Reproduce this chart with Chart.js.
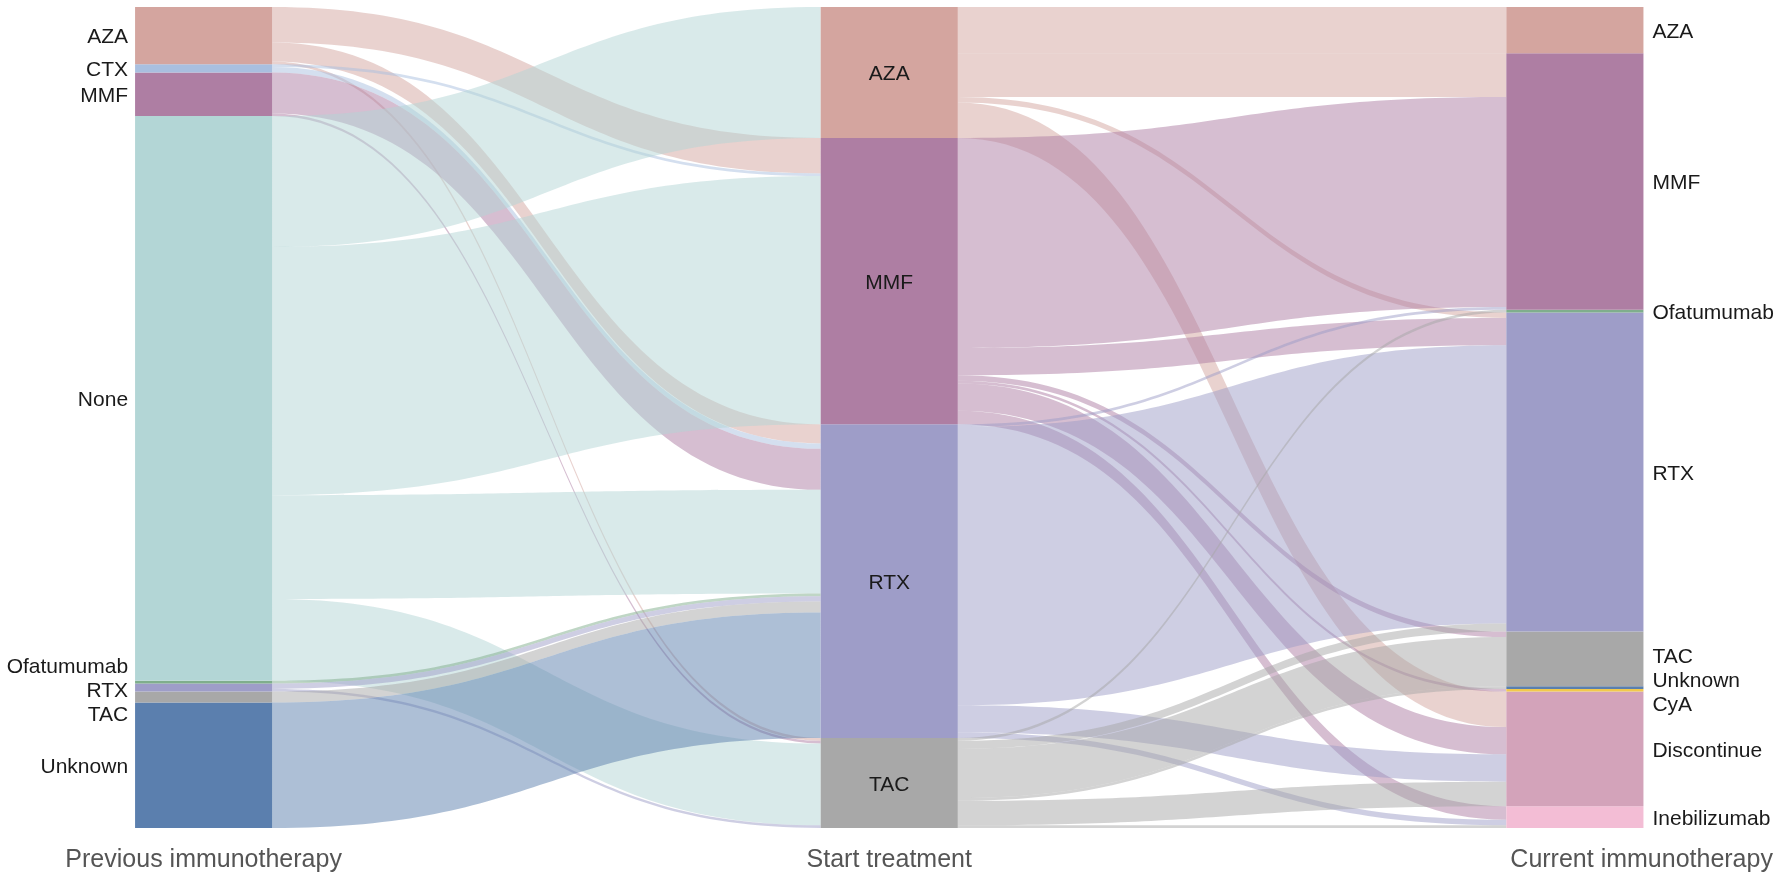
<!DOCTYPE html>
<html>
<head>
<meta charset="utf-8">
<script src="https://cdn.jsdelivr.net/npm/chart.js@4.4.1/dist/chart.umd.min.js"></script>
<style>
  html, body { margin: 0; padding: 0; background: #ffffff; }
  #wrap { width: 1784px; height: 882px; position: relative; }
</style>
</head>
<body>
<div id="wrap"><canvas id="myChart"></canvas></div>
<script>
// columns of the alluvial plot
const columnTitles = ['Previous immunotherapy', 'Start treatment', 'Current immunotherapy'];
const prevNodes = ['AZA', 'CTX', 'MMF', 'None', 'Ofatumumab', 'RTX', 'TAC', 'Unknown'];
const startNodes = ['AZA', 'MMF', 'RTX', 'TAC'];
const currentNodes = ['AZA', 'MMF', 'Ofatumumab', 'RTX', 'TAC', 'Unknown', 'CyA', 'Discontinue', 'Inebilizumab'];

// patients moving from previous immunotherapy to start treatment
const prevToStart = [
    ['AZA', 'MMF', 13], ['AZA', 'RTX', 7], ['AZA', 'TAC', 1],
    ['CTX', 'MMF', 1], ['CTX', 'RTX', 2],
    ['MMF', 'RTX', 15], ['MMF', 'TAC', 1],
    ['None', 'AZA', 48], ['None', 'MMF', 91], ['None', 'RTX', 38], ['None', 'TAC', 30],
    ['Ofatumumab', 'RTX', 1],
    ['RTX', 'RTX', 2], ['RTX', 'TAC', 1],
    ['TAC', 'RTX', 4],
    ['Unknown', 'RTX', 46]
];

// patients moving from start treatment to current immunotherapy
const startToCurrent = [
    ['AZA', 'AZA', 17], ['AZA', 'MMF', 16], ['AZA', 'RTX', 2], ['AZA', 'Discontinue', 13],
    ['MMF', 'MMF', 77], ['MMF', 'RTX', 10], ['MMF', 'TAC', 2], ['MMF', 'CyA', 1], ['MMF', 'Discontinue', 10], ['MMF', 'Inebilizumab', 5],
    ['RTX', 'MMF', 1], ['RTX', 'RTX', 102], ['RTX', 'Discontinue', 10], ['RTX', 'Inebilizumab', 2],
    ['TAC', 'Ofatumumab', 1], ['TAC', 'RTX', 3], ['TAC', 'TAC', 18], ['TAC', 'Unknown', 1], ['TAC', 'Discontinue', 9], ['TAC', 'Inebilizumab', 1]
];

const nodeColors = {
    AZA: '#d4a59f',
    CTX: '#a9bfdf',
    MMF: '#ae7ea3',
    None: '#b3d6d6',
    Ofatumumab: '#7fae8c',
    RTX: '#9e9dc8',
    TAC: '#a8a8a8',
    Unknown: '#5b7fae',
    CyA: '#f2c94c',
    Discontinue: '#d3a3ba',
    Inebilizumab: '#f3bdd5'
};

//------------------------------------------------------------------------------------------------
const columns = [prevNodes, startNodes, currentNodes];
const linkSets = [prevToStart, startToCurrent];

function hexToRgba(hex, alpha) {
    const n = parseInt(hex.slice(1), 16);
    return 'rgba(' + (n >> 16) + ',' + ((n >> 8) & 255) + ',' + (n & 255) + ',' + alpha + ')';
}

// node sizes = sum of flows touching them
function nodeTotals(col) {
    const totals = {};
    columns[col].forEach(n => totals[n] = 0);
    if (col < linkSets.length) linkSets[col].forEach(l => totals[l[0]] += l[2]);
    else linkSets[col - 1].forEach(l => totals[l[1]] += l[2]);
    return totals;
}

// stacked node positions (in patient units) for every column
const nodeSpans = columns.map((names, col) => {
    const totals = nodeTotals(col);
    let acc = 0;
    const spans = {};
    names.forEach(n => {
        spans[n] = [acc, acc + totals[n]];
        acc += totals[n];
    });
    return spans;
});
const grandTotal = prevToStart.reduce((s, l) => s + l[2], 0);

// flow bands: sorted by the node at the other end, like a standard alluvial layout
function buildBands(col) {
    const links = linkSets[col];
    const from = columns[col], to = columns[col + 1];
    const outOff = {}, inOff = {};
    from.forEach(n => outOff[n] = nodeSpans[col][n][0]);
    to.forEach(n => inOff[n] = nodeSpans[col + 1][n][0]);
    const bands = links.map(l => ({ src: l[0], tgt: l[1], v: l[2] }));
    const outOrder = bands.slice().sort((a, b) => from.indexOf(a.src) - from.indexOf(b.src) || to.indexOf(a.tgt) - to.indexOf(b.tgt));
    outOrder.forEach(b => { b.s0 = outOff[b.src]; outOff[b.src] += b.v; b.s1 = outOff[b.src]; });
    const inOrder = bands.slice().sort((a, b) => to.indexOf(a.tgt) - to.indexOf(b.tgt) || from.indexOf(a.src) - from.indexOf(b.src));
    inOrder.forEach(b => { b.t0 = inOff[b.tgt]; inOff[b.tgt] += b.v; b.t1 = inOff[b.tgt]; });
    return bands;
}
const bandSets = [buildBands(0), buildBands(1)];

// one floating bar dataset per node
const datasets = [];
const datasetIndex = {};
columns.forEach((names, col) => {
    names.forEach(n => {
        datasetIndex[col + ':' + n] = datasets.length;
        datasets.push({
            label: n,
            data: [{ x: col, y: nodeSpans[col][n] }],
            backgroundColor: nodeColors[n],
            borderWidth: 0,
            grouped: false,
            categoryPercentage: 1,
            barPercentage: 0.2
        });
    });
});

function nodeEdges(chart, col, name) {
    const el = chart.getDatasetMeta(datasetIndex[col + ':' + name]).data[0];
    return { left: el.x - el.width / 2, right: el.x + el.width / 2, x: el.x };
}

const flowPlugin = {
    id: 'flows',
    beforeDatasetsDraw(chart) {
        const ctx = chart.ctx;
        const ys = chart.scales.y;
        ctx.save();
        bandSets.forEach((bands, col) => {
            bands.forEach(b => {
                const xa = nodeEdges(chart, col, b.src).right;
                const xb = nodeEdges(chart, col + 1, b.tgt).left;
                const xm = (xa + xb) / 2;
                const a0 = ys.getPixelForValue(b.s0), a1 = ys.getPixelForValue(b.s1);
                const b0 = ys.getPixelForValue(b.t0), b1 = ys.getPixelForValue(b.t1);
                ctx.beginPath();
                ctx.moveTo(xa, a0);
                ctx.bezierCurveTo(xm, a0, xm, b0, xb, b0);
                ctx.lineTo(xb, b1);
                ctx.bezierCurveTo(xm, b1, xm, a1, xa, a1);
                ctx.closePath();
                ctx.fillStyle = hexToRgba(nodeColors[b.src], 0.5);
                ctx.fill();
            });
        });
        ctx.restore();
    }
};

// spread label positions so tiny neighbouring nodes stay readable
function spreadLabels(items, gap) {
    for (let k = 0; k < 60; k++) {
        for (let i = 1; i < items.length; i++) {
            const d = items[i].y - items[i - 1].y;
            if (d < gap) {
                const push = (gap - d) / 2;
                items[i].y += push;
                items[i - 1].y -= push;
            }
        }
    }
    return items;
}

const labelPlugin = {
    id: 'nodeLabels',
    afterDatasetsDraw(chart) {
        const ctx = chart.ctx;
        const ys = chart.scales.y;
        ctx.save();
        ctx.font = '21px "Liberation Sans", Arial, sans-serif';
        ctx.fillStyle = '#1a1a1a';
        ctx.textBaseline = 'middle';
        columns.forEach((names, col) => {
            const items = names.map(n => {
                const sp = nodeSpans[col][n];
                return { n: n, y: (ys.getPixelForValue(sp[0]) + ys.getPixelForValue(sp[1])) / 2 + 2 };
            });
            spreadLabels(items, 24);
            items.forEach(it => {
                const e = nodeEdges(chart, col, it.n);
                if (col === 0) {
                    ctx.textAlign = 'right';
                    ctx.fillText(it.n, e.left - 7, it.y);
                } else if (col === 1) {
                    ctx.textAlign = 'center';
                    ctx.fillText(it.n, e.x, it.y);
                } else {
                    ctx.textAlign = 'left';
                    ctx.fillText(it.n, e.right + 9, it.y);
                }
            });
        });
        // column titles under the strata
        ctx.font = '25px "Liberation Sans", Arial, sans-serif';
        ctx.fillStyle = '#555555';
        const yTitle = chart.chartArea.bottom + 32;
        columnTitles.forEach((t, col) => {
            const e = nodeEdges(chart, col, columns[col][0]);
            if (col === columns.length - 1) {
                ctx.textAlign = 'left';
                ctx.fillText(t, e.left + 4, yTitle);
            } else {
                ctx.textAlign = 'center';
                ctx.fillText(t, e.x, yTitle);
            }
        });
        ctx.restore();
    }
};

const ctx = document.getElementById('myChart').getContext('2d');
new Chart(ctx, {
    type: 'bar',
    data: { datasets: datasets },
    plugins: [flowPlugin, labelPlugin],
    options: {
        responsive: true,
        maintainAspectRatio: false,
        animation: false,
        layout: { padding: { top: 7, bottom: 54, left: 0, right: 0 } },
        plugins: { legend: { display: false }, tooltip: { enabled: false } },
        scales: {
            x: {
                type: 'linear',
                offset: false,
                min: -0.297,
                max: 2.305,
                display: false,
                ticks: { stepSize: 1, includeBounds: false }
            },
            y: {
                type: 'linear',
                min: 0,
                max: grandTotal,
                reverse: true,
                display: false
            }
        }
    }
});
</script>
</body>
</html>
